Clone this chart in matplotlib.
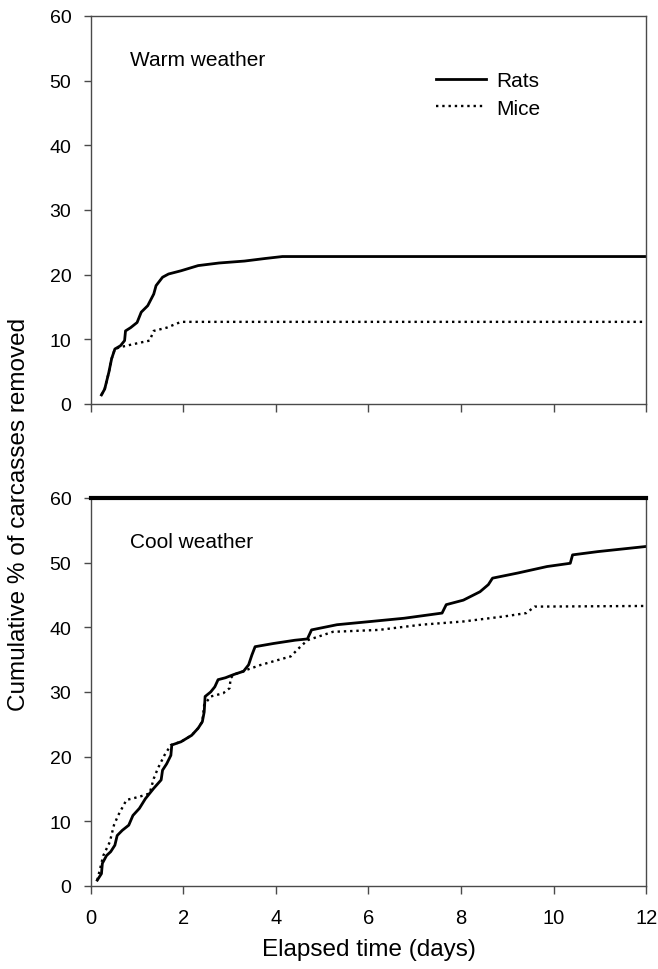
import matplotlib
matplotlib.use("Agg")
import matplotlib.pyplot as plt

plt.rcParams['font.family'] = ['Liberation Sans', 'DejaVu Sans']

# warm weather
warm_rats_x = [0.23, 0.30, 0.39, 0.45, 0.52, 0.64, 0.73, 0.75, 0.86, 1.00, 1.09, 1.23, 1.36, 1.41,
               1.55, 1.68, 1.95, 2.32, 2.77, 3.32, 3.77, 4.14, 12.0]
warm_rats_y = [1.4, 2.3, 4.9, 7.0, 8.5, 9.0, 9.8, 11.3, 11.8, 12.6, 14.2, 15.2, 17.0, 18.3,
               19.6, 20.1, 20.6, 21.4, 21.8, 22.1, 22.5, 22.8, 22.8]
warm_mice_x = [0.23, 0.30, 0.39, 0.45, 0.52, 0.64, 0.95, 1.27, 1.36, 1.64, 1.95, 12.0]
warm_mice_y = [1.4, 2.3, 4.9, 7.0, 8.5, 8.8, 9.3, 9.8, 11.3, 11.8, 12.7, 12.7]

# cool weather
cool_rats_x = [0.14, 0.23, 0.25, 0.34, 0.43, 0.52, 0.57, 0.68, 0.82, 0.91, 1.05, 1.18, 1.36, 1.52,
               1.55, 1.64, 1.73, 1.75, 1.95, 2.18, 2.32, 2.41, 2.45, 2.47, 2.59, 2.68, 2.75, 2.91,
               3.09, 3.30, 3.41, 3.48, 3.55, 3.95, 4.41, 4.68, 4.77, 5.32, 6.05, 6.77, 7.59, 7.68,
               8.05, 8.41, 8.59, 8.68, 9.23, 9.86, 10.36, 10.41, 10.95, 12.0]
cool_rats_y = [0.9, 1.9, 3.5, 4.7, 5.3, 6.3, 7.8, 8.6, 9.4, 10.9, 12.0, 13.5, 15.1, 16.4,
               17.9, 18.9, 20.2, 21.8, 22.3, 23.3, 24.4, 25.4, 26.9, 29.3, 30.0, 30.8, 31.9, 32.2,
               32.7, 33.2, 34.2, 35.7, 37.0, 37.5, 38.0, 38.2, 39.6, 40.4, 40.9, 41.4, 42.2, 43.5,
               44.2, 45.5, 46.6, 47.6, 48.4, 49.4, 49.9, 51.2, 51.7, 52.5]
cool_mice_x = [0.14, 0.27, 0.41, 0.50, 0.59, 0.77, 1.05, 1.27, 1.36, 1.45, 1.59, 1.73, 1.95, 2.18,
               2.32, 2.41, 2.45, 2.59, 2.86, 3.00, 3.02, 3.09, 3.30, 3.36, 3.68, 4.32, 4.50, 4.68,
               5.23, 6.23, 7.14, 8.05, 8.95, 9.41, 9.59, 12.0]
cool_mice_y = [0.9, 4.7, 6.8, 9.4, 10.9, 13.3, 13.8, 14.3, 16.6, 18.2, 20.2, 21.8, 22.3, 23.3,
               24.4, 25.4, 28.0, 29.3, 29.8, 30.6, 32.1, 32.7, 33.2, 33.4, 34.2, 35.5, 36.8, 38.0,
               39.3, 39.6, 40.4, 40.9, 41.7, 42.2, 43.2, 43.3]

x_ticks = [0, 2, 4, 6, 8, 10, 12]
y_ticks = [0, 10, 20, 30, 40, 50, 60]

fig = plt.figure(figsize=(6.58, 9.70), dpi=100)
ax1 = fig.add_axes([0.138, 0.5825, 0.844, 0.400])
ax2 = fig.add_axes([0.138, 0.0856, 0.844, 0.400])

lw_solid = 2.0
lw_dot = 1.7
spine_col = '#4a4a4a'

ax1.plot(warm_rats_x, warm_rats_y, color='black', lw=lw_solid, label='Rats')
ax1.plot(warm_mice_x, warm_mice_y, color='black', lw=lw_dot, ls=':', label='Mice')
ax2.plot(cool_rats_x, cool_rats_y, color='black', lw=lw_solid)
ax2.plot(cool_mice_x, cool_mice_y, color='black', lw=lw_dot, ls=':')

for ax in (ax1, ax2):
    ax.set_xlim(0, 12)
    ax.set_ylim(0, 60)
    ax.set_xticks(x_ticks)
    ax.set_yticks(y_ticks)
    ax.tick_params(axis='y', direction='out', length=5, width=1, labelsize=14, pad=9,
                   color=spine_col)
    ax.tick_params(axis='x', direction='out', length=6, width=1, labelsize=14.5, pad=10,
                   color=spine_col)
    for s in ax.spines.values():
        s.set_linewidth(1.0)
        s.set_color(spine_col)

ax1.set_xticklabels([])
ax2.spines['top'].set_linewidth(3.0)
ax2.spines['top'].set_color('black')

ax1.text(0.85, 53.3, 'Warm weather', fontsize=15, va='center', ha='left')
ax2.text(0.85, 53.2, 'Cool weather', fontsize=15, va='center', ha='left')

ax1.legend(loc='upper left', bbox_to_anchor=(0.602, 0.884), frameon=False, fontsize=15,
           handlelength=2.4, handletextpad=0.53, labelspacing=0.4, borderpad=0)

fig.text(0.029, 0.47, 'Cumulative % of carcasses removed', rotation=90, fontsize=17.5,
         ha='center', va='center')
fig.text(0.56, 0.021, 'Elapsed time (days)', fontsize=17.5, ha='center', va='center')

fig.savefig('out.png', dpi=100)
